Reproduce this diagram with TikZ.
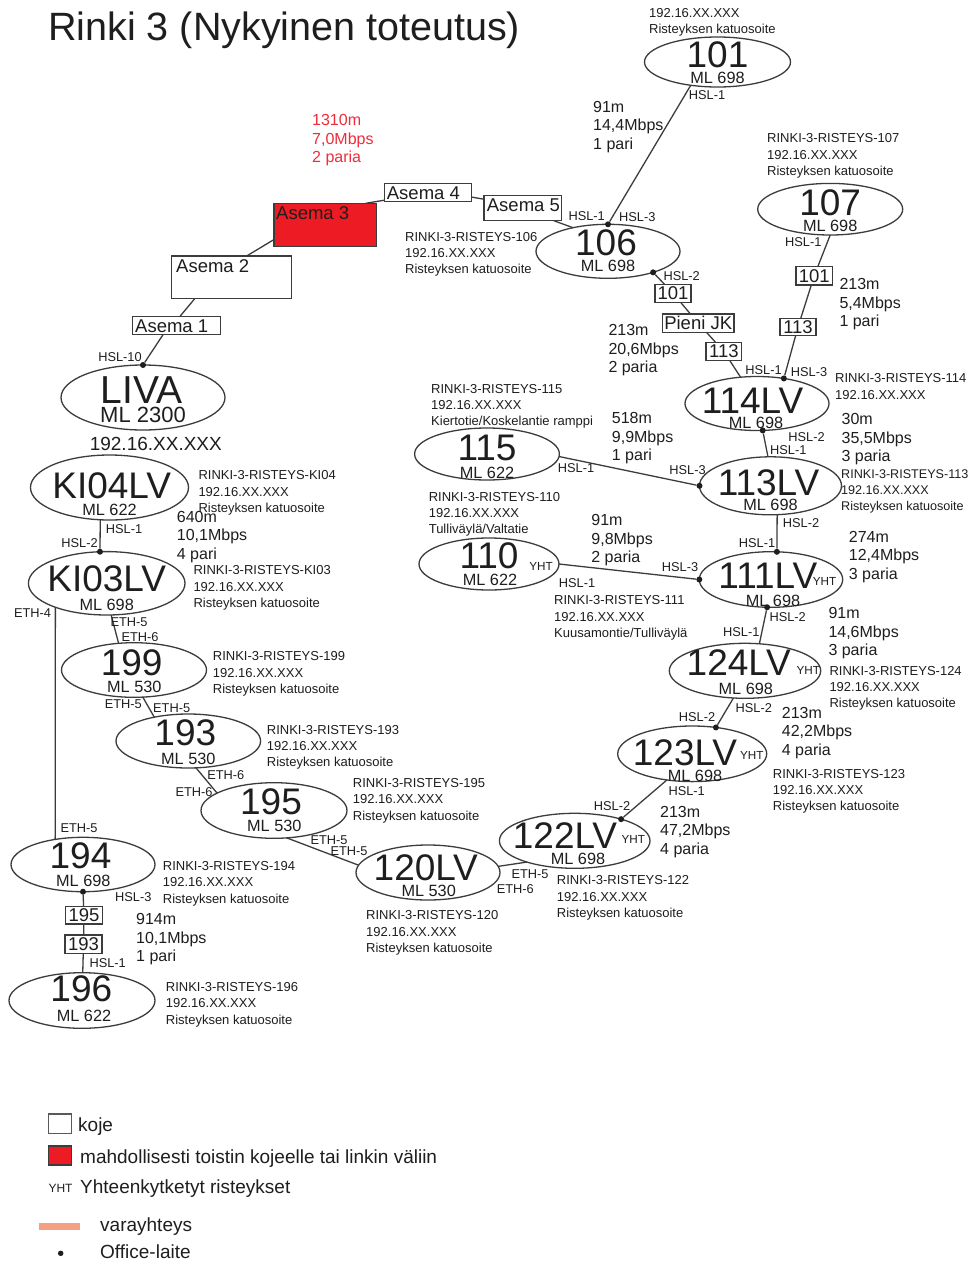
\documentclass[tikz,border=0pt]{standalone}
\usepackage{fontspec}
\setmainfont{Liberation Sans}
\usetikzlibrary{shapes.geometric}
\definecolor{lc}{RGB}{60,60,60}
\definecolor{tc}{RGB}{30,30,30}
\definecolor{redbox}{RGB}{237,28,36}
\definecolor{redtxt}{RGB}{238,45,60}
\definecolor{salmon}{RGB}{244,160,130}
\newcommand\rkTitle{\fontsize{39.5}{39.5}\selectfont}
\newcommand\rkBig{\fontsize{37}{37}\selectfont}
\newcommand\rkML{\fontsize{16.3}{16.3}\selectfont}
\newcommand\rkLink{\fontsize{16}{18.5}\selectfont}
\newcommand\rkSmall{\fontsize{13}{16.2}\selectfont}
\newcommand\rkPort{\fontsize{12.8}{12.8}\selectfont}
\newcommand\rkYht{\fontsize{11.7}{11.7}\selectfont}
\newcommand\rkAsema{\fontsize{18.5}{18.5}\selectfont}
\newcommand\rkLeg{\fontsize{19}{19}\selectfont}
\begin{document}
\begin{tikzpicture}[x=1pt,y=-1pt,
  rkell/.style={draw=lc,line width=1.3pt,ellipse,inner sep=0pt,outer sep=0pt},
  rkconn/.style={draw=lc,line width=1.3pt},
  rkdot/.style={circle,fill=tc,inner sep=0pt,minimum size=6pt},
  rkbox/.style={draw=lc,line width=1.4pt,fill=white,inner sep=0pt,outer sep=0pt},
  rksbox/.style={rkbox,font=\rkAsema,text=tc},
  rkbig/.style={font=\rkBig,text=tc,inner sep=0pt,anchor=base},
  rkml/.style={font=\rkML,text=tc,inner sep=0pt,anchor=base},
  rkport/.style={font=\rkPort,text=tc,inner sep=0pt},
  rkyht/.style={font=\rkYht,text=tc,inner sep=0pt},
  rkinfo/.style={font=\rkSmall,text=tc,inner sep=0pt,anchor=west,align=left},
  rklink/.style={font=\rkLink,text=tc,inner sep=0pt,anchor=west,align=left},
  rkbt/.style={font=\rkAsema,text=tc,inner sep=0pt,anchor=west},
  rkleg/.style={font=\rkLeg,text=tc,inner sep=0pt,anchor=base west},
]
\useasboundingbox (0,0) rectangle (971,1261);
\fill[white] (0,0) rectangle (971,1261);

% title
\node[font=\rkTitle,text=tc,inner sep=0pt,anchor=base west] (title) at (48,40) {Rinki 3 (Nykyinen toteutus)};

% Asema boxes
\node[rkbox,minimum width=88pt,minimum height=18.5pt] (a1) at (176.7,325.5) {};
\node[rkbox,minimum width=120pt,minimum height=42.7pt] (a2) at (231.7,277.35) {};
\node[rkbox,fill=redbox,minimum width=102.7pt,minimum height=43pt] (a3) at (325.35,224.8) {};
\node[rkbox,minimum width=87.4pt,minimum height=18.4pt] (a4) at (428,192.5) {};
\node[rkbox,minimum width=77.7pt,minimum height=25pt] (a5) at (522.85,208.2) {};
\node[rkbt] (a1t) at (135,325.8) {Asema 1};
\node[rkbt] (a2t) at (176,266) {Asema 2};
\node[rkbt] (a3t) at (276,213) {Asema 3};
\node[rkbt] (a4t) at (386.7,193.7) {Asema 4};
\node[rkbt] (a5t) at (486.7,205.5) {Asema 5};

% ellipses
\node[rkell,minimum width=146pt,minimum height=50pt] (n101) at (717.5,62) {};
\node[rkell,minimum width=145pt,minimum height=51.6pt] (n107) at (830.2,209.2) {};
\node[rkell,minimum width=144pt,minimum height=54pt] (n106) at (608,251.3) {};
\node[rkell,minimum width=164pt,minimum height=65pt] (liva) at (143,397.5) {};
\node[rkell,minimum width=158pt,minimum height=65pt] (k04) at (109.5,487.5) {};
\node[rkell,minimum width=156.6pt,minimum height=63.4pt] (k03) at (106.7,583.3) {};
\node[rkell,minimum width=144pt,minimum height=54pt] (n114) at (757,403.5) {};
\node[rkell,minimum width=142pt,minimum height=58pt] (n113) at (770.5,485.8) {};
\node[rkell,minimum width=144.8pt,minimum height=52pt] (n115) at (487,454) {};
\node[rkell,minimum width=140pt,minimum height=52pt] (n110) at (489,564) {};
\node[rkell,minimum width=143.4pt,minimum height=55.6pt] (n111) at (771,579.5) {};
\node[rkell,minimum width=151.4pt,minimum height=55pt] (n124) at (745,670.8) {};
\node[rkell,minimum width=149pt,minimum height=55.6pt] (n123) at (692.2,753.8) {};
\node[rkell,minimum width=150.6pt,minimum height=55pt] (n122) at (574.7,840.8) {};
\node[rkell,minimum width=144pt,minimum height=55pt] (n120) at (428,872.5) {};
\node[rkell,minimum width=145pt,minimum height=54.6pt] (n199) at (134,670) {};
\node[rkell,minimum width=144.6pt,minimum height=54pt] (n193) at (188.3,741) {};
\node[rkell,minimum width=146pt,minimum height=55.6pt] (n195) at (274,810.5) {};
\node[rkell,minimum width=144pt,minimum height=54.4pt] (n194) at (83,864.5) {};
\node[rkell,minimum width=146pt,minimum height=55.6pt] (n196) at (82,1000.5) {};

% ellipse texts
\node[rkbig] (t101) at (717.5,67) {101};
\node[rkml] (m101) at (717.5,83.5) {ML 698};
\node[rkbig] (t107) at (830.2,215) {107};
\node[rkml] (m107) at (830.2,231.7) {ML 698};
\node[rkbig] (t106) at (606,255) {106};
\node[rkml] (m106) at (608,271.7) {ML 698};
\node[rkbig,font=\fontsize{39}{39}\selectfont] (tliva) at (141.7,403.3) {LIVA};
\node[rkml,font=\fontsize{22}{22}\selectfont] (mliva) at (143,422.7) {ML 2300};
\node[rkbig] (tk04) at (111.7,498.3) {KI04LV};
\node[rkml] (mk04) at (109.5,515) {ML 622};
\node[rkbig] (tk03) at (106.7,591.7) {KI03LV};
\node[rkml] (mk03) at (106.7,610) {ML 698};
\node[rkbig] (t114) at (752.5,413) {114LV};
\node[rkml] (m114) at (756,428.8) {ML 698};
\node[rkbig] (t113) at (768.5,495) {113LV};
\node[rkml] (m113) at (770.5,510.5) {ML 698};
\node[rkbig] (t115) at (487,460) {115};
\node[rkml] (m115) at (487,478.3) {ML 622};
\node[rkbig] (t110) at (489,568.3) {110};
\node[rkml] (m110) at (490,585) {ML 622};
\node[rkyht] (y110) at (541,566.7) {YHT};
\node[rkbig] (t111) at (767.8,588.3) {111LV};
\node[rkml] (m111) at (773,606.7) {ML 698};
\node[rkyht] (y111) at (824.6,581.7) {YHT};
\node[rkbig] (t124) at (738.8,675) {124LV};
\node[rkml] (m124) at (745.8,694) {ML 698};
\node[rkyht] (y124) at (808.3,670.7) {YHT};
\node[rkbig] (t123) at (685,765) {123LV};
\node[rkml] (m123) at (695,781.7) {ML 698};
\node[rkyht] (y123) at (751.7,755) {YHT};
\node[rkbig] (t122) at (565,848.3) {122LV};
\node[rkml] (m122) at (578,864.5) {ML 698};
\node[rkyht] (y122) at (633.3,839.3) {YHT};
\node[rkbig] (t120) at (425.8,880) {120LV};
\node[rkml] (m120) at (428.7,896.7) {ML 530};
\node[rkbig] (t199) at (131.7,675) {199};
\node[rkml] (m199) at (134.3,692.7) {ML 530};
\node[rkbig] (t193) at (185.3,745) {193};
\node[rkml] (m193) at (188.3,764) {ML 530};
\node[rkbig] (t195) at (271,814) {195};
\node[rkml] (m195) at (274.3,831.7) {ML 530};
\node[rkbig] (t194) at (80.5,868) {194};
\node[rkml] (m194) at (83.3,886) {ML 698};
\node[rkbig] (t196) at (81.3,1001.7) {196};
\node[rkml] (m196) at (84,1021.7) {ML 622};

% small boxes on links
\node[rksbox,minimum width=35.7pt,minimum height=18pt] (b101a) at (673,293.3) {101};
\node[rksbox,minimum width=71.7pt,minimum height=18.3pt] (bpjk) at (698.2,323.2) {Pieni JK};
\node[rksbox,minimum width=35.7pt,minimum height=18.4pt] (b113a) at (723.9,351.5) {113};
\node[rksbox,minimum width=36.3pt,minimum height=18.3pt] (b101b) at (814.2,275.9) {101};
\node[rksbox,minimum width=36pt,minimum height=17.4pt] (b113b) at (798,327) {113};
\node[rksbox,minimum width=37.3pt,minimum height=17.3pt] (b195) at (84,915.3) {195};
\node[rksbox,minimum width=37.3pt,minimum height=18.3pt] (b193) at (83.5,944.2) {193};

% office devices
\node[rkdot] (d106a) at (n106.north) {};
\node[rkdot] (d106b) at (n106.-25) {};
\node[rkdot] (dliva) at (liva.north) {};
\node[rkdot] (dk03) at (k03.102) {};
\node[rkdot] (d114a) at (n114.43) {};
\node[rkdot] (d114b) at (n114.-78) {};
\node[rkdot] (d113) at (n113.west) {};
\node[rkdot] (d111a) at (n111.78) {};
\node[rkdot] (d111b) at (n111.west) {};
\node[rkdot] (d111c) at (n111.-98) {};
\node[rkdot] (d123) at (n123.48) {};
\node[rkdot] (d122) at (n122.25) {};
\node[rkdot] (d194) at (n194.south) {};

% connectors
\draw[rkconn] (a1.70) -- (a2.210);
\draw[rkconn] (a2.55) -- (a3.196);
\draw[rkconn] (a3.28) -- (a4.190);
\draw[rkconn] (a4.-6) -- (a5.167);
\draw[rkconn] (a5.-22) -- (n106.146);
\draw[rkconn] (a1.214) -- (dliva);
\draw[rkconn] (n101.221) -- (d106a);
\draw[rkconn] (d106b) -- (b101a) -- (bpjk) -- (b113a) -- (n114.122);
\draw[rkconn] (n107.south) -- (b101b) -- (b113b) -- (d114a);
\draw[rkconn] (d114b) -- (n113.95);
\draw[rkconn] (n115.-2) -- (d113);
\draw[rkconn] (n113.-77) -- (d111a);
\draw[rkconn] (n110.east) -- (d111b);
\draw[rkconn] (d111c) -- (n124.62);
\draw[rkconn] (n124.-113) -- (d123);
\draw[rkconn] (n123.-134) -- (d122);
\draw[rkconn] (n122.204) -- (n120.5);
\draw[rkconn] (n195.-65) -- (n120.174);
\draw[rkconn] (n193.-74) -- (n195.163);
\draw[rkconn] (n199.-72) -- (n193.145);
\draw[rkconn] (k03.-82) -- (n199.120);
\draw[rkconn] (k03.205) -- (n194.138);
\draw[rkconn] (k04.-106) -- (dk03);
\draw[rkconn] (d194) -- (b195) -- (b193) -- (n196);

% port labels
\node[rkport] (p01) at (707,95) {HSL-1};
\node[rkport] (p02) at (586.7,215.7) {HSL-1};
\node[rkport] (p03) at (637.3,216.7) {HSL-3};
\node[rkport] (p04) at (681.7,276) {HSL-2};
\node[rkport] (p05) at (803.3,241.7) {HSL-1};
\node[rkport] (p06) at (763.5,370) {HSL-1};
\node[rkport] (p07) at (809,371.7) {HSL-3};
\node[rkport] (p08) at (806.6,436.7) {HSL-2};
\node[rkport] (p09) at (788.3,450) {HSL-1};
\node[rkport] (p10) at (120,356.7) {HSL-10};
\node[rkport] (p11) at (124,529.3) {HSL-1};
\node[rkport] (p12) at (79.5,543.3) {HSL-2};
\node[rkport] (p13) at (576,468.3) {HSL-1};
\node[rkport] (p14) at (687.5,470) {HSL-3};
\node[rkport] (p15) at (801,522.7) {HSL-2};
\node[rkport] (p16) at (757,542.7) {HSL-1};
\node[rkport] (p17) at (577,582.7) {HSL-1};
\node[rkport] (p18) at (680,566.7) {HSL-3};
\node[rkport] (p19) at (787.7,616.7) {HSL-2};
\node[rkport] (p20) at (741.3,632.3) {HSL-1};
\node[rkport] (p21) at (753.8,708.3) {HSL-2};
\node[rkport] (p22) at (697,717.3) {HSL-2};
\node[rkport] (p23) at (686.7,791) {HSL-1};
\node[rkport] (p24) at (612,806) {HSL-2};
\node[rkport] (p25) at (530,874) {ETH-5};
\node[rkport] (p26) at (515.3,889.3) {ETH-6};
\node[rkport] (p27) at (329,840) {ETH-5};
\node[rkport] (p28) at (349,851) {ETH-5};
\node[rkport] (p29) at (225.8,775) {ETH-6};
\node[rkport] (p30) at (194,791.7) {ETH-6};
\node[rkport] (p31) at (123.3,704) {ETH-5};
\node[rkport] (p32) at (171.7,708.3) {ETH-5};
\node[rkport] (p33) at (129,621.7) {ETH-5};
\node[rkport] (p34) at (140,636.7) {ETH-6};
\node[rkport] (p35) at (32.5,613.3) {ETH-4};
\node[rkport] (p36) at (79,828.3) {ETH-5};
\node[rkport] (p37) at (133.3,897.3) {HSL-3};
\node[rkport] (p38) at (107.7,963.3) {HSL-1};

% info blocks
\node[rkinfo] (i101) at (649,22.5) {192.16.XX.XXX\\Risteyksen katuosoite};
\node[rkinfo] (i107) at (767,155.9) {RINKI-3-RISTEYS-107\\192.16.XX.XXX\\Risteyksen katuosoite};
\node[rkinfo] (i106) at (405,254.5) {RINKI-3-RISTEYS-106\\192.16.XX.XXX\\Risteyksen katuosoite};
\node[rkinfo] (i115) at (431,406.2) {RINKI-3-RISTEYS-115\\192.16.XX.XXX\\Kiertotie/Koskelantie ramppi};
\node[rkinfo] (i114) at (835,386.5) {RINKI-3-RISTEYS-114\\192.16.XX.XXX};
\node[rkinfo,font=\fontsize{12.6}{16.2}\selectfont] (i113) at (841,491.2) {RINKI-3-RISTEYS-113\\192.16.XX.XXX\\Risteyksen katuosoite};
\node[rkinfo] (i110) at (428.6,514.6) {RINKI-3-RISTEYS-110\\192.16.XX.XXX\\Tulliväylä/Valtatie};
\node[rkinfo] (i111) at (554,617.9) {RINKI-3-RISTEYS-111\\192.16.XX.XXX\\Kuusamontie/Tulliväylä};
\node[rkinfo] (i124) at (829.3,688.6) {RINKI-3-RISTEYS-124\\192.16.XX.XXX\\Risteyksen katuosoite};
\node[rkinfo] (i123) at (772.7,791.2) {RINKI-3-RISTEYS-123\\192.16.XX.XXX\\Risteyksen katuosoite};
\node[rkinfo] (i122) at (556.7,897.9) {RINKI-3-RISTEYS-122\\192.16.XX.XXX\\Risteyksen katuosoite};
\node[rkinfo] (i120) at (366,932.9) {RINKI-3-RISTEYS-120\\192.16.XX.XXX\\Risteyksen katuosoite};
\node[rkinfo] (i199) at (212.7,673.9) {RINKI-3-RISTEYS-199\\192.16.XX.XXX\\Risteyksen katuosoite};
\node[rkinfo] (i193) at (266.7,747.2) {RINKI-3-RISTEYS-193\\192.16.XX.XXX\\Risteyksen katuosoite};
\node[rkinfo] (i195) at (352.7,800.6) {RINKI-3-RISTEYS-195\\192.16.XX.XXX\\Risteyksen katuosoite};
\node[rkinfo] (i194) at (162.7,883.6) {RINKI-3-RISTEYS-194\\192.16.XX.XXX\\Risteyksen katuosoite};
\node[rkinfo] (i196) at (165.7,1004.6) {RINKI-3-RISTEYS-196\\192.16.XX.XXX\\Risteyksen katuosoite};
\node[rkinfo] (ik04) at (198.3,492.9) {RINKI-3-RISTEYS-KI04\\192.16.XX.XXX\\Risteyksen katuosoite};
\node[rkinfo] (ik03) at (193.3,587.9) {RINKI-3-RISTEYS-KI03\\192.16.XX.XXX\\Risteyksen katuosoite};
\node[font=\fontsize{19}{19}\selectfont,text=tc,inner sep=0pt] (iliva) at (155.8,444) {192.16.XX.XXX};

% link labels
\node[rklink] (l01) at (593,126.9) {91m\\14,4Mbps\\1 pari};
\node[rklink] (l02) at (839.3,304.5) {213m\\5,4Mbps\\1 pari};
\node[rklink] (l03) at (608.3,350.2) {213m\\20,6Mbps\\2 paria};
\node[rklink] (l04) at (611.7,438.5) {518m\\9,9Mbps\\1 pari};
\node[rklink] (l05) at (841.4,439.5) {30m\\35,5Mbps\\3 paria};
\node[rklink] (l06) at (591.2,540.2) {91m\\9,8Mbps\\2 paria};
\node[rklink] (l07) at (848.7,556.9) {274m\\12,4Mbps\\3 paria};
\node[rklink] (l08) at (828.3,633.5) {91m\\14,6Mbps\\3 paria};
\node[rklink] (l09) at (781.7,732.9) {213m\\42,2Mbps\\4 paria};
\node[rklink] (l10) at (660,831.9) {213m\\47,2Mbps\\4 paria};
\node[rklink] (l11) at (176.7,536.9) {640m\\10,1Mbps\\4 pari};
\node[rklink] (l12) at (136,939.5) {914m\\10,1Mbps\\1 pari};
\node[rklink,text=redtxt] (l13) at (312,140.2) {1310m\\7,0Mbps\\2 paria};

% legend
\node[rkbox,draw=lc!85,minimum width=23.4pt,minimum height=19.3pt] (lg1) at (60,1123.7) {};
\node[rkleg] (lg1t) at (78,1131.6) {koje};
\node[rkbox,fill=redbox,minimum width=23.4pt,minimum height=19pt] (lg2) at (60,1155.5) {};
\node[rkleg] (lg2t) at (80,1163.9) {mahdollisesti toistin kojeelle tai linkin väliin};
\node[font=\fontsize{12}{12}\selectfont,text=tc,inner sep=0pt,anchor=base] (lg3) at (60.5,1192) {YHT};
\node[rkleg] (lg3t) at (80,1193.6) {Yhteenkytketyt risteykset};
\coordinate (lg4a) at (39.3,1226.7);
\coordinate (lg4b) at (80,1226.7);
\draw[salmon,line width=6.5pt] (lg4a) -- (lg4b);
\node[rkleg] (lg4t) at (100,1231) {varayhteys};
\node[rkdot,minimum size=5.5pt] (lg5) at (60.7,1253.3) {};
\node[rkleg] (lg5t) at (100,1258.5) {Office-laite};
\end{tikzpicture}
\end{document}
